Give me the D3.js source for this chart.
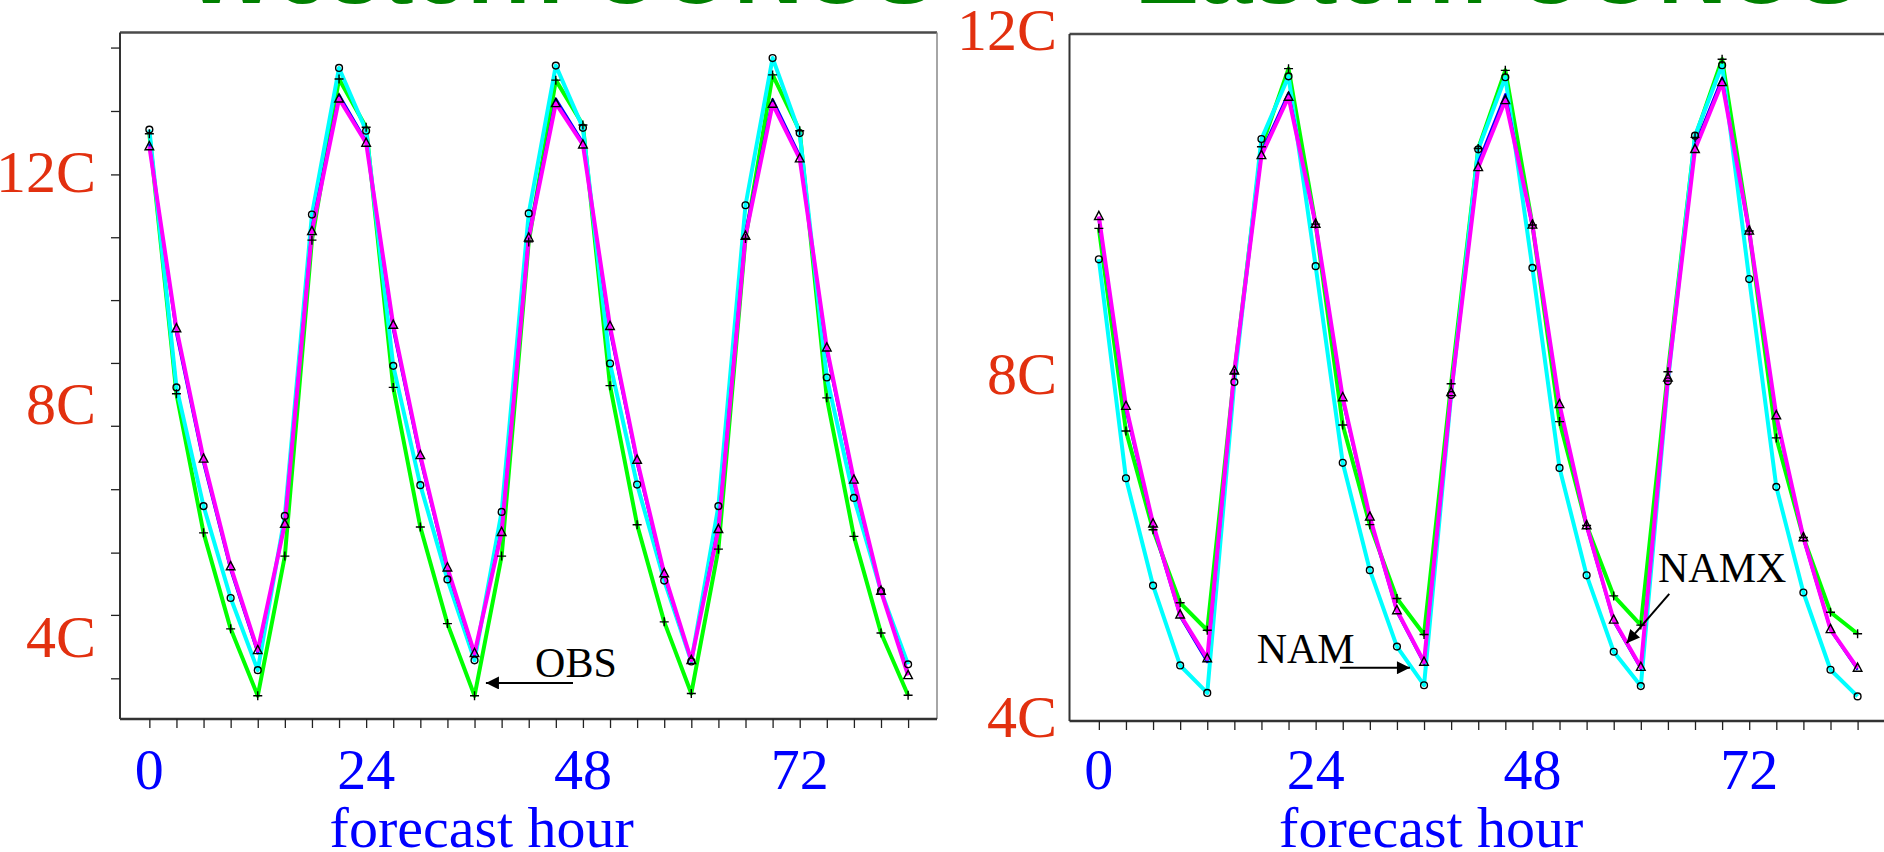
<!DOCTYPE html>
<html><head><meta charset="utf-8">
<script src="https://cdn.jsdelivr.net/npm/d3@7"></script>
<style>html,body{margin:0;padding:0;background:#fff;overflow:hidden}</style>
</head><body>
<svg id="c" width="1884" height="852"></svg>
<script>
// ---------------- data ----------------
const hours = [0,3,6,9,12,15,18,21,24,27,30,33,36,39,42,45,48,51,54,57,60,63,66,69,72,75,78,81,84];
const xTickLabels = [0,24,48,72];
const titles = ["Western CONUS","Eastern CONUS"];
const yLabels = [12,8,4];

// Western CONUS (deg C)
const westOBS  = [12.65,8.18,5.79,4.14,2.99,5.39,10.82,13.59,12.76,8.29,5.89,4.23,2.99,5.39,10.79,13.57,12.80,8.32,5.93,4.26,3.03,5.51,10.85,13.66,12.70,8.11,5.73,4.07,3.00];
const westNAM  = [12.72,8.29,6.25,4.67,3.43,6.08,11.26,13.78,12.70,8.66,6.61,4.99,3.60,6.15,11.28,13.82,12.75,8.70,6.62,4.97,3.58,6.25,11.42,13.95,12.66,8.46,6.39,4.79,3.53];
const westNAMX = [12.43,9.30,7.06,5.21,3.77,5.94,10.97,13.25,12.49,9.36,7.12,5.19,3.72,5.80,10.86,13.17,12.46,9.34,7.04,5.09,3.60,5.85,10.89,13.16,12.22,8.97,6.70,4.79,3.34];
const westBlue = [12.48,9.20,6.98,5.15,3.72,5.98,11.05,13.32,12.52,9.27,7.05,5.15,3.68,5.86,10.93,13.25,12.50,9.25,6.98,5.05,3.59,5.92,10.97,13.24,12.28,8.90,6.64,4.79,3.38];

// Eastern CONUS (deg C)
const eastOBS  = [9.69,7.33,6.18,5.33,5.01,8.00,10.64,11.55,9.74,7.40,6.24,5.38,4.96,7.88,10.62,11.53,9.73,7.44,6.23,5.41,5.07,8.02,10.75,11.66,9.66,7.25,6.09,5.22,4.97];
const eastNAM  = [9.33,6.78,5.53,4.60,4.28,7.90,10.73,11.46,9.25,6.96,5.71,4.82,4.37,7.75,10.61,11.45,9.23,6.90,5.65,4.76,4.36,7.91,10.77,11.59,9.10,6.68,5.45,4.55,4.24];
const eastNAMX = [9.83,7.62,6.25,5.19,4.68,8.03,10.54,11.22,9.74,7.72,6.33,5.24,4.64,7.78,10.40,11.18,9.73,7.64,6.23,5.13,4.58,7.95,10.61,11.39,9.66,7.51,6.09,5.02,4.57];
const eastBlue = [9.78,7.57,6.22,5.17,4.64,8.00,10.58,11.27,9.72,7.68,6.31,5.22,4.62,7.76,10.46,11.25,9.70,7.61,6.21,5.11,4.56,7.93,10.66,11.44,9.63,7.48,6.07,5.01,4.55];

// unlabeled y tick marks of the western panel (deg C)
const westYTicks = [14.13,13.04,11.95,10.87,9.79,8.71,7.63,6.54,5.45,4.38,3.29];
const eastYTicks = [];

// annotations: [label, textHour, textValue, fromHour, fromValue, toHour, toValue]
const westNotes = [["OBS",42.7,3.31,46.9,3.21,37.26,3.21]];
const eastNotes = [["NAM",17.47,4.625,26.69,4.574,34.44,4.574],["NAMX",61.9,5.576,63.15,5.433,58.43,4.86]];

// ---------------- drawing ----------------
const svg = d3.select("#c");
svg.append("rect").attr("width",1884).attr("height",852).attr("fill","#fff");
const defs = svg.append("defs");
defs.append("marker").attr("id","ah").attr("viewBox","0 0 10 10").attr("refX",10).attr("refY",5)
  .attr("markerWidth",15).attr("markerHeight",13).attr("markerUnits","userSpaceOnUse").attr("orient","auto")
  .append("path").attr("d","M0,0L10,5L0,10Z").attr("fill","#000");

const panels = [
  {title:titles[0], tx:186, x0:120, x1:937, top:32.5, bottom:719, yTop:171.5, yBot:637,
   obs:westOBS, nam:westNAM, namx:westNAMX, blue:westBlue, yTicks:westYTicks, notes:westNotes, lblX:96, labelShift:20},
  {title:titles[1], tx:1135, x0:1069.5, x1:1886.5, top:34, bottom:721, yTop:30, yBot:717,
   obs:eastOBS, nam:eastNAM, namx:eastNAMX, blue:eastBlue, yTicks:eastYTicks, notes:eastNotes, lblX:1057, labelShift:20}
];

const serif = "'Liberation Serif','Times New Roman',serif";

panels.forEach(p => {
  const x = d3.scaleLinear().domain([-3.25, 87.2]).range([p.x0, p.x1]);
  const y = d3.scaleLinear().domain([4, 12]).range([p.yBot, p.yTop]);
  const g = svg.append("g");

  // title (mostly cut off at top)
  svg.append("text").attr("x",p.tx).attr("y",3).text(p.title)
    .attr("font-family","'Liberation Sans',Arial,sans-serif").attr("font-weight","bold")
    .attr("font-size",96).attr("fill","#008000");

  // frame
  g.append("line").attr("x1",p.x0).attr("x2",p.x1).attr("y1",p.top).attr("y2",p.top).attr("stroke","#4a4a4a").attr("stroke-width",2.5);
  g.append("line").attr("x1",p.x1).attr("x2",p.x1).attr("y1",p.top).attr("y2",p.bottom).attr("stroke","#888").attr("stroke-width",1.5);

  // x axis with minor ticks every 3 h
  const xAxis = d3.axisBottom(x).tickValues(hours).tickSize(9).tickFormat("");
  const xa = g.append("g").attr("transform",`translate(0,${p.bottom})`).call(xAxis);
  xa.select(".domain").attr("d",`M${p.x0},0H${p.x1}`).attr("stroke","#333").attr("stroke-width",2.5);
  xa.selectAll(".tick line").attr("stroke","#222").attr("stroke-width",1.3);

  // y axis
  const yAxis = d3.axisLeft(y).tickValues(p.yTicks).tickSize(9).tickFormat("");
  const ya = g.append("g").attr("transform",`translate(${p.x0},0)`).call(yAxis);
  ya.select(".domain").attr("d",`M0,${p.top}V${p.bottom}`).attr("stroke","#333").attr("stroke-width",2);
  ya.selectAll(".tick line").attr("stroke","#222").attr("stroke-width",1.3);

  // x tick labels
  g.selectAll(".xl").data(xTickLabels).join("text").attr("class","xl")
    .attr("x",d=>x(d)).attr("y",789).attr("text-anchor","middle")
    .attr("font-family",serif).attr("font-size",58).attr("fill","#0000ff").text(d=>d);
  g.append("text").attr("x",x(36.8)).attr("y",847).attr("text-anchor","middle")
    .attr("font-family",serif).attr("font-size",58).attr("fill","#0000ff").text("forecast hour");

  // y labels
  g.selectAll(".yl").data(yLabels).join("text").attr("class","yl")
    .attr("x",p.lblX).attr("y",d=>y(d)+p.labelShift).attr("text-anchor","end")
    .attr("font-family",serif).attr("font-size",60).attr("fill","#e2300f").text(d=>d+"C");

  // lines
  const line = d3.line().x((d,i)=>x(hours[i])).y(d=>y(d));
  const series = [
    {v:p.obs, c:"#00ff00", w:4},
    {v:p.nam, c:"#00ffff", w:4},
    {v:p.blue, c:"#0000ff", w:2.5},
    {v:p.namx, c:"#ff00ff", w:4}
  ];
  series.forEach(s => g.append("path").attr("d",line(s.v)).attr("fill","none")
    .attr("stroke",s.c).attr("stroke-width",s.w).attr("stroke-linejoin","round"));

  // markers
  const mk = g.append("g").attr("stroke","#000").attr("fill","none").attr("stroke-width",1.4);
  mk.selectAll(".p").data(p.obs).join("path").attr("class","p")
    .attr("d",(d,i)=>`M${x(hours[i])-4.5},${y(d)}h9M${x(hours[i])},${y(d)-4.5}v9`);
  mk.selectAll(".o").data(p.nam).join("circle").attr("class","o")
    .attr("cx",(d,i)=>x(hours[i])).attr("cy",d=>y(d)).attr("r",3.4);
  mk.selectAll(".t").data(p.namx).join("path").attr("class","t")
    .attr("d",(d,i)=>{const cx=x(hours[i]),cy=y(d);return `M${cx},${cy-5}L${cx+4.3},${cy+3.2}L${cx-4.3},${cy+3.2}Z`;});

  // annotations
  p.notes.forEach(n => {
    g.append("text").attr("x",x(n[1])).attr("y",y(n[2])).text(n[0])
      .attr("font-family",serif).attr("font-size",42).attr("fill","#000");
    g.append("line").attr("x1",x(n[3])).attr("y1",y(n[4])).attr("x2",x(n[5])).attr("y2",y(n[6]))
      .attr("stroke","#000").attr("stroke-width",2).attr("marker-end","url(#ah)");
  });
});
</script>
</body></html>
